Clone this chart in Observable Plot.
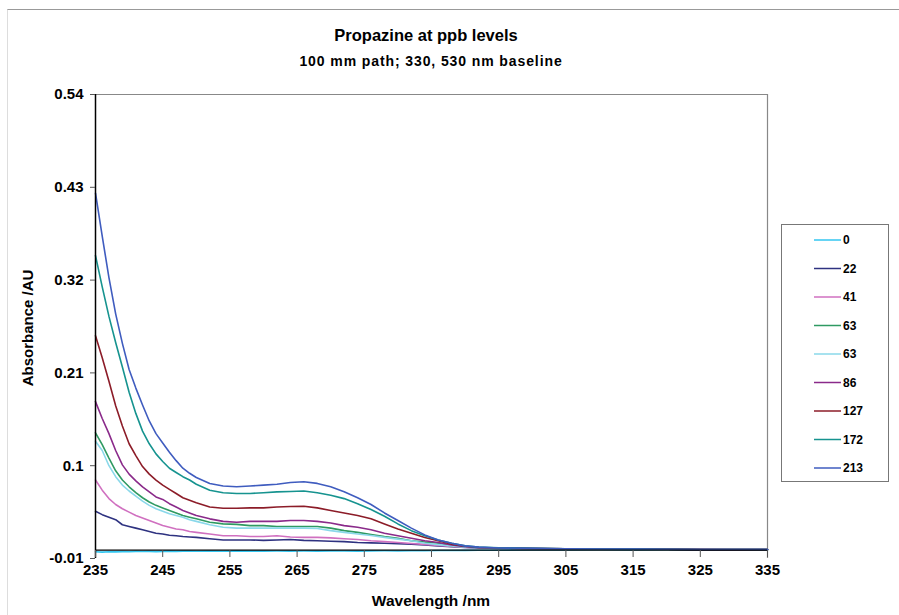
<!DOCTYPE html>
<html>
<head>
<meta charset="utf-8">
<script src="https://cdn.jsdelivr.net/npm/d3@7"></script>
<script src="https://cdn.jsdelivr.net/npm/@observablehq/plot@0.6"></script>
<style>
  html, body { margin: 0; padding: 0; background: #fff; }
  #wrap { position: relative; width: 899px; height: 615px; overflow: hidden; font-family: "Liberation Sans", Arial, sans-serif; font-weight: bold; color: #000; }
  #border { position: absolute; left: 7px; top: 9px; width: 1000px; height: 1000px; border-top: 1.5px solid #999; border-left: 1.5px solid #ddd; }
  .t { position: absolute; white-space: nowrap; transform: translate(-50%, -50%); }
  #chart { position: absolute; left: 0; top: 0; }
  #legend { position: absolute; left: 781px; top: 224px; width: 106px; height: 256px; border: 1px solid #777; background: #fff; }
</style>
</head>
<body>
<div id="wrap">
  <div id="border"></div>
  <div id="chart"></div>
  <div class="t" style="left:426px; top:35px; font-size:16.5px;">Propazine at ppb levels</div>
  <div class="t" style="left:431px; top:61px; font-size:14px; letter-spacing:0.9px;">100 mm path; 330, 530 nm baseline</div>
  <div class="t" style="left:27px; top:328px; font-size:15px; transform: translate(-50%, -50%) rotate(-90deg);">Absorbance /AU</div>
  <div class="t" style="left:431px; top:601px; font-size:15.5px;">Wavelength /nm</div>
  <div id="legend"></div>
</div>
<script>
// Wavelengths (nm)
const wavelengths = [235,236,237,238,239,240,241,242,243,244,245,246,247,248,249,250,
  252,254,256,258,260,262,264,266,268,270,272,274,276,278,280,282,284,286,288,290,292,
  295,300,305,310,315,320,325,330,335];

// Series labels (ppb) and colours
const seriesLabels = ["0","22","41","63","63","86","127","172","213"];
const seriesIds = ["s0","s22","s41","s63a","s63b","s86","s127","s172","s213"];
const seriesColors = ["#33c6f0","#2e3280","#d070c0","#2f9a62","#8ad8ea","#8a2a8a","#8c1c28","#16938f","#3f5cbf"];

// Absorbance values (AU), one array per series
const abs0 = [-0.002,-0.0025,-0.002,-0.0022,-0.0018,-0.002,-0.0015,-0.0017,-0.0015,-0.0018,-0.0015,-0.0012,-0.0015,-0.0013,-0.0012,-0.0014,
  -0.0012,-0.0014,-0.001,-0.0012,-0.0013,-0.0011,-0.0012,-0.0011,-0.0013,-0.001,-0.0011,-0.0012,-0.001,-0.0009,-0.0011,-0.0008,-0.0009,-0.0006,-0.0005,-0.0004,-0.0003,
  -0.0002,0.0001,0.0002,0.0003,0.0002,0.0003,0.0,0.0002,0.0001];
const abs22 = [0.046,0.042,0.039,0.036,0.030,0.028,0.026,0.024,0.022,0.020,0.019,0.0175,0.017,0.016,0.0155,0.015,
  0.0135,0.012,0.012,0.012,0.0115,0.012,0.0125,0.0115,0.011,0.0105,0.010,0.009,0.0085,0.008,0.0075,0.007,0.006,0.005,0.004,0.003,0.0025,
  0.002,0.0015,0.0013,0.0011,0.001,0.0009,0.0005,0.0006,0.0005];
const abs41 = [0.083,0.071,0.061,0.054,0.049,0.045,0.041,0.038,0.035,0.032,0.029,0.027,0.025,0.024,0.022,0.021,
  0.019,0.017,0.017,0.016,0.016,0.017,0.0155,0.015,0.015,0.0145,0.0135,0.0126,0.011,0.010,0.009,0.0078,0.0067,0.0055,0.0043,0.0035,0.003,
  0.0023,0.0018,0.0013,0.0012,0.0011,0.0016,0.0008,0.0006,0.0005];
const abs63a = [0.139,0.125,0.109,0.094,0.083,0.075,0.068,0.062,0.057,0.053,0.050,0.047,0.044,0.041,0.039,0.037,
  0.033,0.031,0.0305,0.029,0.029,0.028,0.028,0.028,0.028,0.026,0.023,0.021,0.0185,0.016,0.014,0.011,0.0095,0.008,0.005,0.004,0.003,
  0.0025,0.0019,0.0015,0.0012,0.001,0.0011,0.0005,0.0006,0.0005];
const abs63b = [0.129,0.118,0.100,0.087,0.077,0.070,0.064,0.058,0.053,0.049,0.046,0.043,0.041,0.039,0.036,0.034,
  0.030,0.027,0.026,0.026,0.026,0.026,0.026,0.026,0.0255,0.023,0.021,0.019,0.0173,0.015,0.013,0.011,0.008,0.0065,0.005,0.0035,0.003,
  0.0024,0.0017,0.0013,0.0011,0.001,0.0009,0.0004,0.0005,0.0005];
const abs86 = [0.176,0.156,0.138,0.118,0.101,0.090,0.082,0.075,0.069,0.063,0.060,0.055,0.051,0.047,0.044,0.041,
  0.037,0.034,0.033,0.034,0.034,0.034,0.035,0.035,0.034,0.032,0.029,0.027,0.024,0.020,0.017,0.014,0.011,0.009,0.006,0.004,0.003,
  0.0024,0.0018,0.0014,0.0011,0.0012,0.0009,0.0005,0.0005,0.0006];
const abs127 = [0.254,0.228,0.200,0.171,0.147,0.126,0.112,0.099,0.090,0.083,0.077,0.072,0.067,0.062,0.059,0.056,
  0.051,0.0495,0.0495,0.050,0.050,0.051,0.0517,0.052,0.050,0.047,0.044,0.041,0.037,0.031,0.025,0.020,0.015,0.011,0.007,0.0045,0.003,
  0.0025,0.0018,0.0014,0.0012,0.0014,0.0012,0.0006,0.0005,0.0006];
const abs172 = [0.349,0.312,0.277,0.246,0.217,0.187,0.162,0.141,0.126,0.114,0.105,0.097,0.092,0.087,0.083,0.078,
  0.071,0.068,0.067,0.067,0.068,0.069,0.0695,0.070,0.068,0.065,0.061,0.055,0.048,0.040,0.031,0.023,0.017,0.012,0.008,0.005,0.0035,
  0.0028,0.002,0.0016,0.0013,0.0011,0.001,0.0006,0.0006,0.0007];
const abs213 = [0.423,0.372,0.323,0.280,0.245,0.214,0.192,0.172,0.153,0.138,0.127,0.116,0.106,0.097,0.091,0.086,
  0.079,0.076,0.075,0.076,0.077,0.078,0.080,0.081,0.079,0.075,0.069,0.062,0.054,0.044,0.035,0.026,0.018,0.012,0.008,0.005,0.0035,
  0.0025,0.002,0.0015,0.0013,0.0012,0.001,0.0005,0.0007,0.0006];

const seriesValues = [abs0, abs22, abs41, abs63a, abs63b, abs86, abs127, abs172, abs213];

// Axis ticks
const yTicks = [-0.01, 0.1, 0.21, 0.32, 0.43, 0.54];
const yTickLabels = ["-0.01","0.1","0.21","0.32","0.43","0.54"];
const xTicks = [235,245,255,265,275,285,295,305,315,325,335];

// Long table
const rows = [];
seriesIds.forEach((id, i) => {
  seriesValues[i].forEach((v, j) => rows.push({id, wl: wavelengths[j], a: v}));
});

const chart = Plot.plot({
  width: 899,
  height: 615,
  marginLeft: 95,
  marginRight: 132,
  marginTop: 94,
  marginBottom: 57,
  style: {fontFamily: "'Liberation Sans', Arial, sans-serif", fontWeight: "bold", fontSize: "15px", color: "#000", background: "transparent"},
  x: {domain: [235, 335]},
  y: {domain: [-0.01, 0.54]},
  color: {domain: seriesIds, range: seriesColors},
  marks: [
    Plot.ruleY([0.54], {stroke: "#888", strokeWidth: 1.2}),
    Plot.ruleX([335], {stroke: "#888", strokeWidth: 1.2}),
    Plot.line(rows, {x: "wl", y: "a", z: "id", stroke: "id", strokeWidth: 1.6, curve: "linear"}),
    Plot.ruleY([0], {stroke: "#000", strokeWidth: 1.3}),
    Plot.ruleX([235], {stroke: "#000", strokeWidth: 1.5}),
    Plot.axisY({ticks: yTicks, tickFormat: (d) => yTickLabels[yTicks.indexOf(d)], tickSize: 5, tickPadding: 7, stroke: "#555", label: null, fontSize: 15, fontWeight: "bold"}),
    Plot.axisX({ticks: xTicks, tickFormat: d => String(d), tickSize: 7, tickPadding: 7, dy: -8, stroke: "#555", label: null, fontSize: 15, fontWeight: "bold"})
  ]
});
document.getElementById("chart").appendChild(chart);

// Legend
const lg = d3.select("#legend").append("svg").attr("width", 106).attr("height", 256);
seriesLabels.forEach((lab, i) => {
  const cy = 15 + i * 28.5;
  lg.append("line").attr("x1", 32).attr("x2", 59).attr("y1", cy).attr("y2", cy)
    .attr("stroke", seriesColors[i]).attr("stroke-width", 1.5);
  lg.append("text").attr("x", 61).attr("y", cy).attr("dy", "0.35em")
    .attr("font-family", "'Liberation Sans', Arial, sans-serif").attr("font-weight", "bold")
    .attr("font-size", 12).text(lab);
});
</script>
</body>
</html>
